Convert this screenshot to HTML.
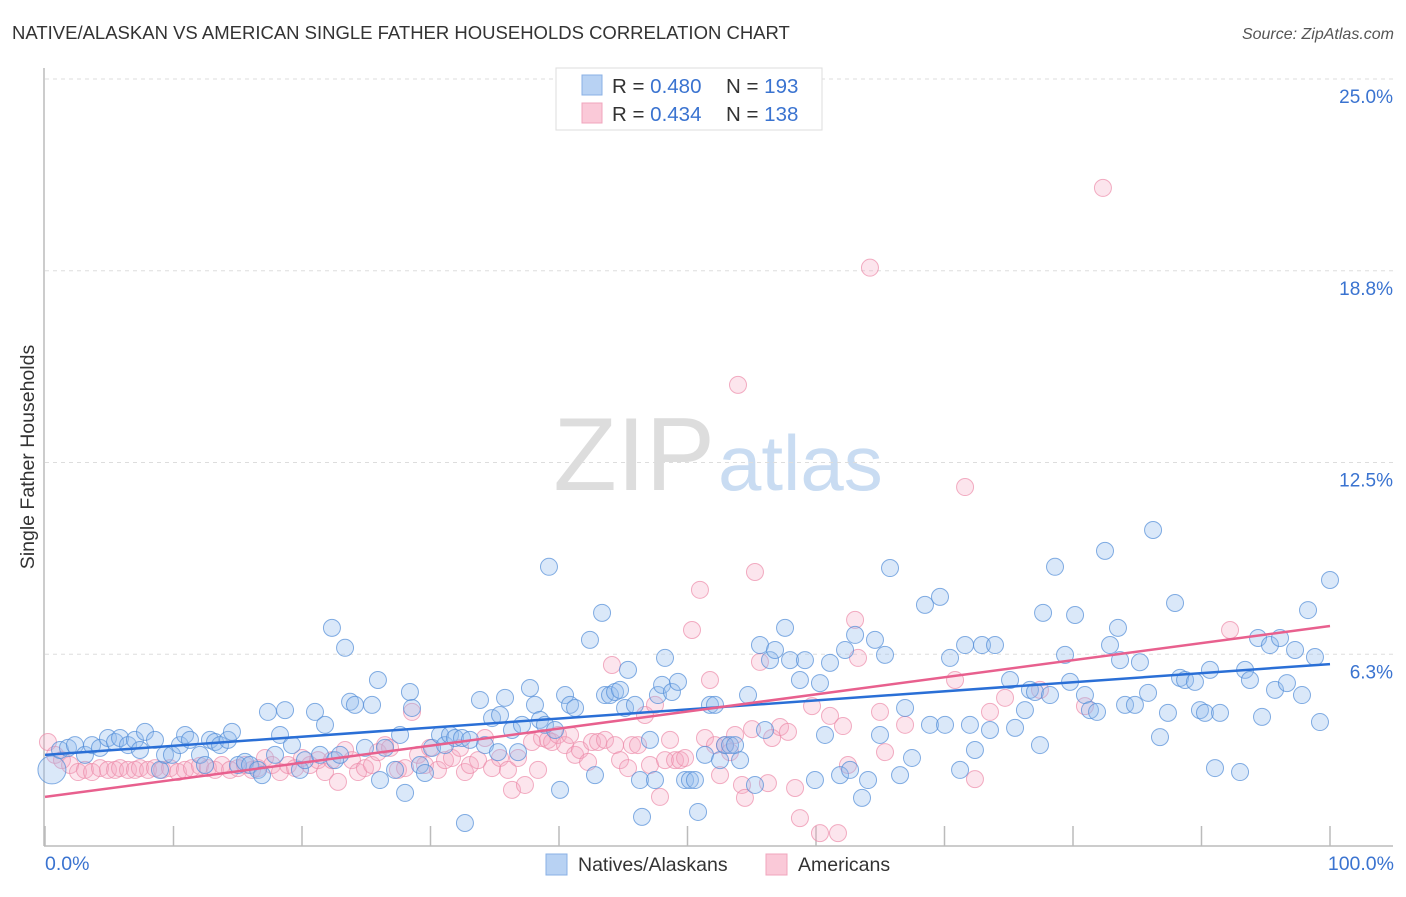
<!DOCTYPE html>
<html><head><meta charset="utf-8"><style>
html,body{margin:0;padding:0;background:#fff;}
body{width:1406px;height:892px;overflow:hidden;font-family:"Liberation Sans",sans-serif;}
svg text{font-family:"Liberation Sans",sans-serif;}
</style></head><body>
<svg id="chart" width="1406" height="892" xmlns="http://www.w3.org/2000/svg">
<text x="12" y="39" font-size="18.5" fill="#333">NATIVE/ALASKAN VS AMERICAN SINGLE FATHER HOUSEHOLDS CORRELATION CHART</text>
<text x="1394" y="39" font-size="16" fill="#555" text-anchor="end" font-style="italic">Source: ZipAtlas.com</text>
<text x="715" y="490" font-size="104" fill="#ddd" text-anchor="end" font-family="Liberation Serif">ZIP</text>
<text x="718" y="490" font-size="78" fill="#c9dcf2">atlas</text>
<g id="grid"></g><g id="axes"></g><g id="pts"></g><g id="trends"></g>
<text transform="translate(34,457) rotate(-90)" font-size="19.5" fill="#333" text-anchor="middle">Single Father Households</text>
<text x="45" y="870" font-size="19.5" fill="#3a73d0">0.0%</text>
<text x="1394" y="870" font-size="19.5" fill="#3a73d0" text-anchor="end">100.0%</text>
<g>
<rect x="556" y="68" width="266" height="62" fill="#fff" stroke="#ddd"/>
<rect x="582" y="75" width="20" height="20" fill="#b8d2f3" stroke="#8ab0e4"/>
<rect x="582" y="103" width="20" height="20" fill="#fac9d8" stroke="#f0a5bd"/>
<text x="612" y="93" font-size="20.5" fill="#333">R = <tspan fill="#3a73d0">0.480</tspan><tspan x="726">N = </tspan><tspan fill="#3a73d0">193</tspan></text>
<text x="612" y="121" font-size="20.5" fill="#333">R = <tspan fill="#3a73d0">0.434</tspan><tspan x="726">N = </tspan><tspan fill="#3a73d0">138</tspan></text>
</g>
<g>
<rect x="546" y="854" width="21" height="21" fill="#b8d2f3" stroke="#8ab0e4"/>
<text x="578" y="871" font-size="19.5" fill="#333">Natives/Alaskans</text>
<rect x="766" y="854" width="21" height="21" fill="#fac9d8" stroke="#f0a5bd"/>
<text x="798" y="871" font-size="19.5" fill="#333">Americans</text>
</g>
</svg>
<script>
const yTicks=[6.25,12.5,18.75,25];
const yTickLabels=["6.3%","12.5%","18.8%","25.0%"];
const xTicks=[0,10,20,30,40,50,60,70,80,90,100];
const blueX=[0.54,1.17,1.79,2.33,3.11,3.66,4.28,4.9,5.45,5.84,6.46,7.0,7.39,7.78,8.56,8.95,9.34,9.88,10.5,10.9,11.28,12.06,12.45,12.84,13.23,13.62,14.24,14.55,15.02,15.56,15.95,16.58,16.89,17.35,17.9,18.29,18.68,19.22,19.84,20.23,21.01,21.4,21.79,22.33,22.57,22.96,23.35,23.74,24.12,24.9,25.45,25.91,26.07,26.46,27.24,27.63,28.02,28.4,28.56,29.18,29.57,30.12,30.74,31.13,31.52,31.91,32.45,32.68,33.07,33.85,34.24,34.79,35.25,35.41,35.8,36.34,36.81,37.12,37.74,38.13,38.52,38.91,39.22,39.69,40.08,40.47,40.86,41.25,42.41,42.8,43.35,43.58,43.97,44.36,44.75,45.14,45.37,45.91,46.3,46.46,47.08,47.47,47.7,48.02,48.25,48.79,49.26,49.81,50.19,50.58,50.82,51.36,51.75,52.14,52.53,52.92,53.31,53.7,54.09,54.71,55.25,55.64,56.03,56.42,56.81,57.59,57.98,58.75,59.14,59.92,60.31,60.7,61.09,61.87,62.26,62.65,63.04,63.58,64.05,64.59,64.98,65.37,65.76,66.54,66.93,67.47,68.48,68.87,69.65,70.04,70.43,71.21,71.6,71.98,72.37,72.92,73.54,73.93,75.1,75.49,76.26,76.65,77.04,77.43,77.67,78.21,78.6,79.38,79.77,80.16,80.93,81.32,81.87,82.49,82.88,83.5,83.66,84.05,84.82,85.21,85.84,86.23,86.77,87.39,87.94,88.33,88.72,89.49,89.88,90.27,90.66,91.05,91.44,93.0,93.39,93.77,94.4,94.71,95.33,95.72,96.11,96.65,97.28,97.82,98.29,98.83,99.22,100];
const blueY=[2.48,3.13,3.2,3.29,2.97,3.29,3.2,3.52,3.39,3.52,3.29,3.46,3.13,3.72,3.46,2.48,2.97,2.97,3.29,3.62,3.46,2.97,2.64,3.46,3.39,3.29,3.46,3.72,2.64,2.74,2.64,2.48,2.31,4.37,2.97,3.62,4.43,3.29,2.48,2.8,4.37,2.97,3.95,7.11,2.8,2.97,6.46,4.7,4.6,3.2,4.6,5.41,2.15,3.2,2.48,3.62,1.73,5.02,4.5,2.64,2.38,3.2,3.62,3.29,3.62,3.52,3.52,0.75,3.46,4.76,3.29,4.17,3.06,4.27,4.83,3.78,3.06,3.95,5.15,4.6,4.11,3.95,9.1,3.78,1.83,4.92,4.6,4.5,6.72,2.31,7.6,4.92,4.92,5.02,5.09,4.5,5.74,4.6,2.15,0.95,3.46,2.15,4.92,5.25,6.13,5.02,5.35,2.15,2.15,2.15,1.11,2.97,4.6,4.6,2.8,3.29,3.29,3.29,2.8,4.92,1.99,6.55,3.78,6.06,6.39,7.11,6.06,5.41,6.06,2.15,5.31,3.62,5.97,2.31,6.39,2.48,6.88,1.57,2.15,6.72,3.62,6.23,9.06,2.31,4.5,2.87,7.86,3.95,8.12,3.95,6.13,2.48,6.55,3.95,3.13,6.55,3.78,6.55,5.41,3.85,4.43,5.09,5.02,3.29,7.6,4.92,9.1,6.23,5.35,7.53,4.92,4.43,4.37,9.62,6.55,7.11,6.06,4.6,4.6,5.99,4.99,10.3,3.55,4.34,7.92,5.48,5.41,5.35,4.43,4.34,5.74,2.54,4.34,2.41,5.74,5.41,6.78,4.21,6.55,5.09,6.78,5.31,6.39,4.92,7.69,6.16,4.04,8.67];
const pinkX=[0.23,0.78,1.32,1.95,2.57,3.11,3.66,4.28,4.9,5.45,5.84,6.46,7.0,7.39,8.02,8.56,9.11,9.73,10.35,10.89,11.44,12.06,12.68,13.23,13.77,14.4,15.02,15.56,16.11,16.58,17.12,17.67,18.29,18.91,19.46,20.0,20.62,21.25,21.79,22.33,22.8,23.35,23.89,24.36,24.9,25.45,25.91,26.46,26.85,27.47,28.02,28.56,29.03,29.57,29.96,30.58,31.13,31.67,32.3,32.68,33.07,33.7,34.24,34.79,35.41,36.03,36.34,36.81,37.35,37.9,38.37,38.68,39.14,39.46,39.92,40.47,40.86,41.25,41.63,42.26,42.57,43.04,43.58,44.12,44.36,44.75,45.37,45.68,46.15,46.69,47.08,47.47,47.86,48.25,48.64,49.03,49.42,49.81,50.35,50.97,51.36,51.75,52.14,52.53,52.92,53.31,53.7,53.93,54.24,54.47,55.02,55.25,55.64,56.26,56.58,57.2,57.82,58.37,58.75,59.69,60.31,61.09,61.71,62.1,62.49,63.04,63.27,64.2,64.98,65.37,66.93,70.82,71.6,72.37,73.54,74.71,77.43,80.93,82.33,92.22];
const pinkY=[3.39,2.97,2.8,2.64,2.41,2.48,2.41,2.54,2.48,2.48,2.54,2.48,2.48,2.54,2.48,2.54,2.48,2.54,2.41,2.48,2.54,2.61,2.54,2.48,2.64,2.48,2.54,2.64,2.48,2.54,2.87,2.64,2.41,2.64,2.54,2.87,2.64,2.8,2.41,2.8,2.09,3.13,2.8,2.41,2.54,2.64,3.06,3.29,3.2,2.48,2.54,4.37,2.97,2.64,3.2,2.48,2.8,2.87,3.2,2.41,2.64,2.8,3.52,2.54,2.87,2.48,1.83,2.87,1.99,3.39,2.48,3.52,3.46,3.39,3.62,3.29,3.62,2.97,3.13,2.74,3.39,3.39,3.46,5.9,3.29,2.8,2.54,3.29,3.29,4.27,2.64,4.6,1.6,2.8,3.46,2.8,2.8,2.87,7.04,8.35,3.52,5.41,3.29,2.31,3.29,3.06,3.62,15.03,1.99,1.57,3.81,8.93,6.0,2.05,3.52,3.88,3.72,1.89,0.91,4.56,0.42,4.24,0.42,3.91,2.64,7.37,6.13,18.85,4.37,3.06,3.95,5.41,11.7,2.18,4.37,4.83,5.09,4.56,21.45,7.04];
const blueTrend=[2.97,5.93];
const pinkTrend=[1.6,7.17];

const NS="http://www.w3.org/2000/svg";
const X0=45,X1=1330,Y0=846,Y25=79;
const sx=v=>X0+(X1-X0)*v/100;
const sy=v=>Y0-(Y0-Y25)*v/25;
function mk(tag,attrs,parent){const e=document.createElementNS(NS,tag);for(const k in attrs)e.setAttribute(k,attrs[k]);document.getElementById(parent).appendChild(e);return e;}

yTicks.forEach((t,i)=>{
  const g=mk('line',{x1:45,x2:1393,y1:sy(t),y2:sy(t),stroke:'#ddd','stroke-dasharray':'4,4'},'grid');
  
  
  const tx=mk('text',{x:1393,y:sy(t)+24,'font-size':19,fill:'#3a73d0','text-anchor':'end'},'grid');
  tx.textContent=yTickLabels[i];
  
  
});
const ya=mk('line',{x1:44,x2:44,y1:68,y2:846,stroke:'#bbb','stroke-width':1.5},'axes');


const xa=mk('line',{x1:44,x2:1393,y1:846,y2:846,stroke:'#bbb','stroke-width':1.5},'axes');


xTicks.forEach(t=>{
  const l=mk('line',{x1:sx(t),x2:sx(t),y1:826,y2:846,stroke:'#bbb','stroke-width':1.5},'axes');
  
  
});
pinkX.forEach((x,i)=>{
  const c=mk('circle',{cx:sx(x),cy:sy(pinkY[i]),r:8.5,fill:'rgba(246,168,194,0.3)',stroke:'rgba(236,140,170,0.7)','stroke-width':1},'pts');
  
  
});
blueX.forEach((x,i)=>{
  const c=mk('circle',{cx:sx(x),cy:sy(blueY[i]),r:i===0?14:8.5,fill:'rgba(150,190,238,0.35)',stroke:'rgba(80,140,215,0.7)','stroke-width':1},'pts');
  
  
});
const bl=mk('line',{x1:sx(0),y1:sy(blueTrend[0]),x2:sx(100),y2:sy(blueTrend[1]),stroke:'#2a6fd6','stroke-width':2.5},'trends');


const pl=mk('line',{x1:sx(0),y1:sy(pinkTrend[0]),x2:sx(100),y2:sy(pinkTrend[1]),stroke:'#e8608e','stroke-width':2.5},'trends');


</script>
</body></html>
